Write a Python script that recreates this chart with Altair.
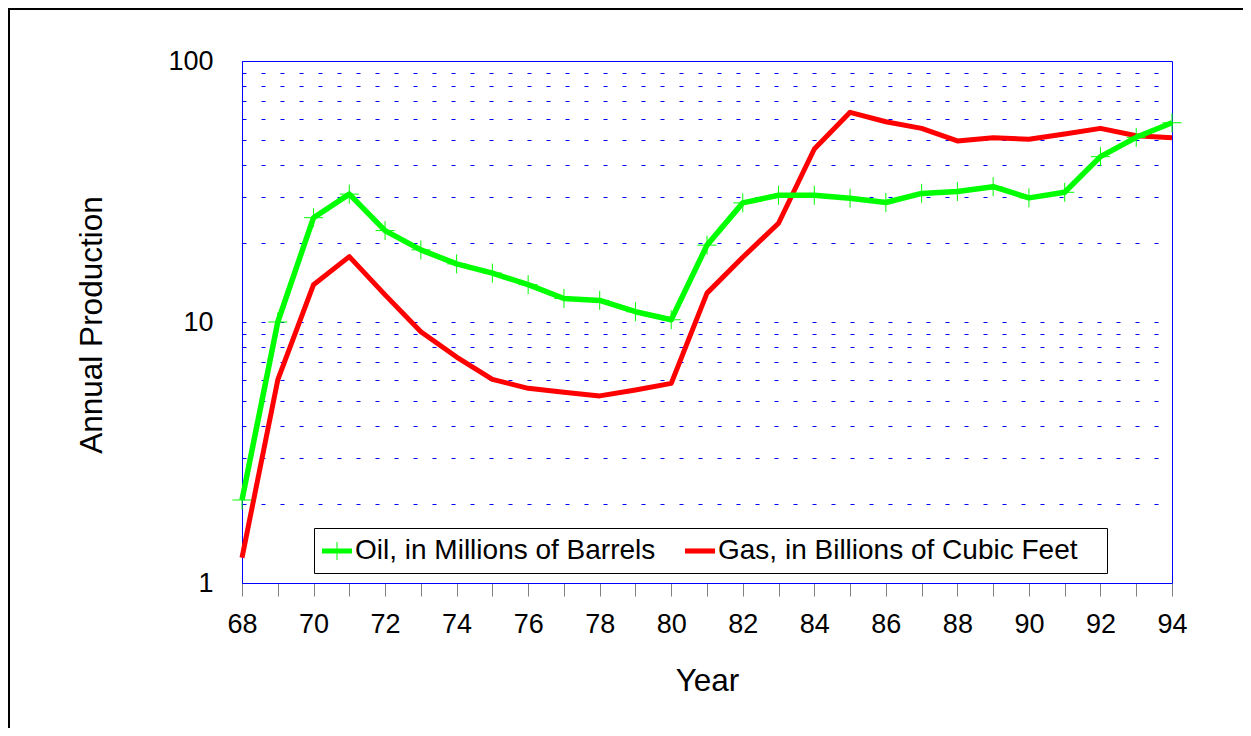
import altair as alt
import pandas as pd

years = list(range(68, 95))
oil = [2.08, 10.0, 25.1, 30.9, 22.4, 18.9, 16.7, 15.4, 13.9, 12.3, 12.1, 10.95, 10.2,
       19.7, 28.6, 30.6, 30.6, 29.8, 28.7, 31.1, 31.6, 33.0, 29.9, 31.4, 43.0, 51.0, 58.0]
gas = [1.25, 6.0, 13.9, 17.8, 12.7, 9.18, 7.34, 6.03, 5.57, 5.38, 5.21, 5.49, 5.82,
       12.9, 17.7, 23.9, 46.0, 63.6, 58.5, 55.2, 49.4, 50.8, 50.1, 52.5, 55.2, 51.7, 50.8]

oil_label = "Oil, in Millions of Barrels"
gas_label = "Gas, in Billions of Cubic Feet"
series = [oil_label, gas_label]
colors = ["#00ff00", "#ff0000"]

y_ticks = [1, 2, 3, 4, 5, 6, 7, 8, 9, 10, 20, 30, 40, 50, 60, 70, 80, 90, 100]
x_ticks = years

FONT = "Liberation Sans"

df = pd.DataFrame({
    "year": years * 2,
    "value": oil + gas,
    "series": [oil_label] * len(years) + [gas_label] * len(years),
})

x_enc = alt.X(
    "year:Q",
    scale=alt.Scale(domain=[68, 94], nice=False, zero=False),
    axis=alt.Axis(
        title="Year", values=x_ticks, format="d",
        labelExpr="datum.value % 2 == 0 ? datum.label : ''",
        grid=False, domainColor="#0000ff", domainWidth=1,
        tickColor="#808080", tickSize=13, tickWidth=1,
        labelFont=FONT, labelFontSize=27, labelColor="black",
        labelPadding=36, labelBaseline="alphabetic", labelFlush=False,
        labelOverlap=False,
        titleFont=FONT, titleFontSize=31.5, titleFontWeight="normal",
        titleColor="black", titleX=465, titleY=107,
        titleBaseline="alphabetic", titleAlign="center",
    ),
)
y_enc = alt.Y(
    "value:Q",
    scale=alt.Scale(type="log", domain=[1, 100], nice=False),
    axis=alt.Axis(
        title="Annual Production", values=y_ticks,
        labelExpr="(datum.value == 1 || datum.value == 10 || datum.value == 100) ? datum.value : ''",
        grid=True, gridColor="#0000ff", gridDash=[4, 15], gridWidth=1, gridOpacity=1,
        ticks=False, tickSize=0, domainColor="#0000ff", domainWidth=1,
        labelFont=FONT, labelFontSize=27, labelColor="black",
        labelPadding=29, labelOverlap=False, labelFlush=False,
        titleFont=FONT, titleFontSize=31.5, titleFontWeight="normal",
        titleColor="black", titleX=-141, titleY=263.5, titleAngle=270,
        titleBaseline="alphabetic", titleAlign="center",
    ),
)

base = alt.Chart(df)

gas_line = base.transform_filter(alt.datum.series == gas_label).mark_line(
    color="#ff0000", strokeWidth=5, strokeJoin="round"
).encode(x=x_enc, y=y_enc)

oil_line = base.transform_filter(alt.datum.series == oil_label).mark_line(
    color="#00ff00", strokeWidth=5.5, strokeJoin="round"
).encode(x=x_enc, y=y_enc)

oil_marks = base.transform_filter(alt.datum.series == oil_label).mark_point(
    shape="M-1,0H1M0,-1V1", filled=False, color="#00ff00", strokeWidth=1,
    size=361, opacity=1
).encode(x=x_enc, y=y_enc)

oil_sym = "M-1,-0.17H1V0.17H-1Z M-0.033,-0.6H0.033V0.6H-0.033Z"
gas_sym = "M-1,-0.17H1V0.17H-1Z"

# a trailing blank glyph leaves the empty space at the right end of the legend box
legend_labels_expr = "datum.label == '%s' ? datum.label + '\u2800' : datum.label" % gas_label

legend_layer = base.transform_filter("false").mark_point(
    filled=True, opacity=1, size=900
).encode(
    x=x_enc, y=y_enc,
    color=alt.Color("series:N", scale=alt.Scale(domain=series, range=colors),
                    legend=alt.Legend(title=None, labelExpr=legend_labels_expr)),
    shape=alt.Shape("series:N", scale=alt.Scale(domain=series, range=[oil_sym, gas_sym]),
                    legend=alt.Legend(title=None, labelExpr=legend_labels_expr)),
)

border = alt.Chart(pd.DataFrame({"b": [0]})).mark_rect(
    filled=False, stroke="black", strokeWidth=2
).encode(x=alt.value(-233), y=alt.value(-52), x2=alt.value(1200), y2=alt.value(900))

chart = alt.layer(border, gas_line, oil_line, oil_marks, legend_layer).properties(
    width=930, height=522,
    autosize=alt.AutoSizeParams(type="none"),
    padding={"left": 234, "top": 53, "right": 71, "bottom": 145},
    background="white",
).configure_view(
    stroke="#0000ff", strokeWidth=1
).configure_legend(
    orient="none", legendX=72, legendY=467, direction="horizontal",
    padding=8, strokeColor="black", fillColor="white",
    symbolSize=900, symbolStrokeWidth=0, symbolOpacity=1,
    labelFont=FONT, labelFontSize=28, labelColor="black",
    labelOffset=3, columnPadding=29, labelLimit=0,
)

chart.save("out.html", embed_options={"renderer": "svg", "actions": False})
